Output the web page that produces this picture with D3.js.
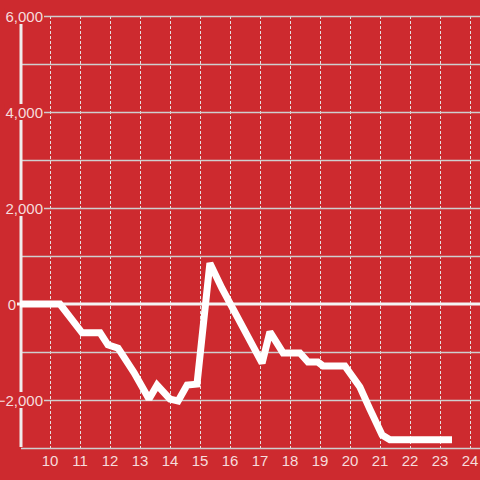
<!DOCTYPE html>
<html><head><meta charset="utf-8">
<script src="https://cdn.jsdelivr.net/npm/d3@7"></script>
<style>html,body{margin:0;padding:0;background:#cd2a2f;}svg{display:block;}</style>
</head><body>
<script>
const hours = [9, 10.33, 11.07, 11.67, 11.93, 12.27, 12.8, 13.3, 13.57, 14.0, 14.27, 14.57, 14.9, 15.33, 15.73, 17.07, 17.33, 17.77, 18.33, 18.6, 18.93, 19.1, 19.83, 20.33, 20.67, 21.07, 21.33, 23.4];
const values = [0, 0, -600, -600, -850, -920, -1430, -1980, -1690, -1980, -2020, -1690, -1670, 850, 330, -1230, -580, -1020, -1020, -1210, -1210, -1290, -1290, -1730, -2200, -2730, -2830, -2830];
const xTicks = [10, 11, 12, 13, 14, 15, 16, 17, 18, 19, 20, 21, 22, 23, 24];
const yGrid = [-3000, -2000, -1000, 0, 1000, 2000, 3000, 4000, 5000, 6000];
const yLabels = [-2000, 0, 2000, 4000, 6000];

const W = 480, H = 480;
const bg = "#cd2a2f";
const x = d3.scaleLinear().domain([9, 24.3333]).range([20, 480]);
const y = d3.scaleLinear().domain([-3000, 6000]).range([448, 16]);
const svg = d3.select("body").append("svg").attr("width", W).attr("height", H);
svg.append("rect").attr("width", W).attr("height", H).attr("fill", bg);

// vertical dashed grid
svg.append("g").selectAll("line").data(xTicks).join("line")
  .attr("x1", d => Math.round(x(d)) + 0.5).attr("x2", d => Math.round(x(d)) + 0.5)
  .attr("y1", y(6000)).attr("y2", y(-3000))
  .attr("stroke", "#e6e0e0").attr("stroke-width", 1).attr("stroke-dasharray", "3,2");

// horizontal grid
svg.append("g").selectAll("line").data(yGrid.filter(d => d !== 0)).join("line")
  .attr("x1", 21).attr("x2", W)
  .attr("y1", d => Math.round(y(d)) + 0.5).attr("y2", d => Math.round(y(d)) + 0.5)
  .attr("stroke", "#cfcfcf").attr("stroke-width", 1.5);

// zero line
svg.append("line").attr("x1", 17).attr("x2", W).attr("y1", y(0)).attr("y2", y(0))
  .attr("stroke", "#f4f4f4").attr("stroke-width", 3);

// y axis line
svg.append("line").attr("x1", 21).attr("x2", 21).attr("y1", y(6000)).attr("y2", y(-3000) - 1)
  .attr("stroke", "#f0ecec").attr("stroke-width", 3);

// y labels with background
const fmt = d3.format(",");
const yl = svg.append("g");
yLabels.forEach(v => {
  const g = yl.append("g");
  const t = g.append("text").attr("x", v === 0 ? 16 : 43).attr("y", y(v) + 6)
    .attr("text-anchor", "end").attr("font-family", "Liberation Sans, Arial, sans-serif")
    .attr("font-size", 15).attr("fill", "#f6dcdc").text(fmt(v));
  const b = t.node().getBBox();
  if (v !== 0) g.insert("rect", "text").attr("x", b.x - 1).attr("y", y(v) - 8).attr("width", b.width + 2).attr("height", 16).attr("fill", bg);
});

// x labels
svg.append("g").selectAll("text").data(xTicks).join("text")
  .attr("x", d => x(d)).attr("y", 466).attr("text-anchor", "middle")
  .attr("font-family", "Liberation Sans, Arial, sans-serif").attr("font-size", 15)
  .attr("fill", "#f6dcdc").text(d => d);

// data line
const line = d3.line().x((d, i) => x(hours[i])).y(d => y(d));
svg.append("path").attr("d", line(values)).attr("fill", "none")
  .attr("stroke", "#ffffff").attr("stroke-width", 7).attr("stroke-linejoin", "miter").attr("stroke-miterlimit", 2);
</script>
</body></html>
